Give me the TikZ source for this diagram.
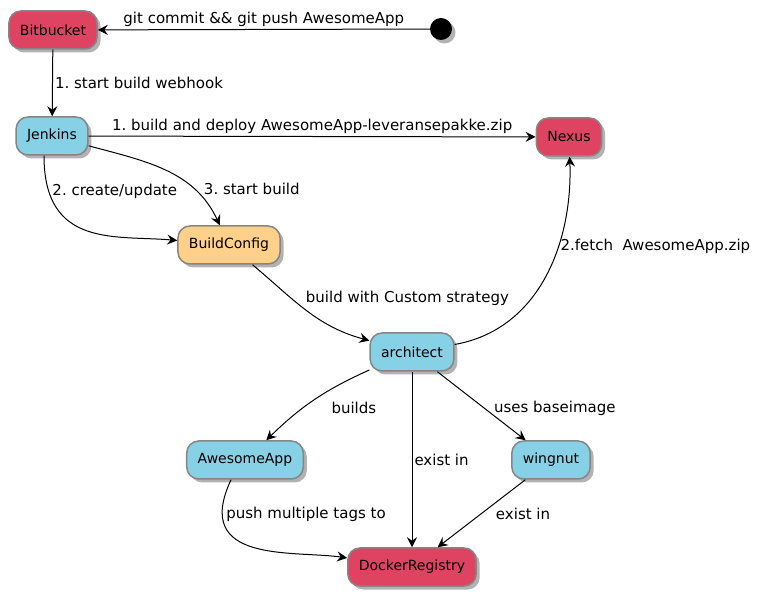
\documentclass[tikz,border=0pt]{standalone}
\usepackage{fontspec}
\setmainfont{DejaVu Sans}
\usepackage{xcolor}
\usepackage{tikz}
\usetikzlibrary{arrows.meta}
\usetikzlibrary{shadows}
\frenchspacing

\definecolor{bbred}{HTML}{DE4462}
\definecolor{appblue}{HTML}{87D1E6}
\definecolor{cfgorange}{HTML}{FFD08A}
\definecolor{rimgray}{HTML}{858585}

\tikzset{
  box/.style={draw=rimgray, line width=1.5pt, rounded corners=12pt,
    minimum height=38pt, inner xsep=11pt,
    font=\fontsize{14}{16}\selectfont,
    drop shadow={shadow xshift=3.5pt, shadow yshift=-3.5pt, opacity=0.3, fill=black}},
  redbox/.style={box, fill=bbred},
  bluebox/.style={box, fill=appblue},
  orangebox/.style={box, fill=cfgorange},
  lbl/.style={font=\fontsize{15}{17}\selectfont, inner sep=2pt},
}

\begin{document}
\begin{tikzpicture}[x=1pt, y=-1pt, >={Stealth[length=10pt, width=10pt, inset=3.5pt]}]
    \useasboundingbox (0,0) rectangle (761,601);
    \node[redbox] (bitbucket) at (53,30) {Bitbucket};
    \node[circle, fill=black, minimum size=22pt, inner sep=0pt,
      drop shadow={shadow xshift=3.5pt, shadow yshift=-3.5pt, opacity=0.3, fill=black}] (start) at (441,29) {};
    \node[bluebox] (jenkins) at (52,136) {Jenkins};
    \node[redbox] (nexus) at (569,137) {Nexus};
    \node[orangebox] (buildconfig) at (229,245) {BuildConfig};
    \node[bluebox] (architect) at (412,352) {architect};
    \node[bluebox] (awesomeapp) at (245,460) {AwesomeApp};
    \node[bluebox] (wingnut) at (551,460) {wingnut};
    \node[redbox] (dockerreg) at (412,567) {DockerRegistry};
    \path [->, line width=1pt] (start) edge node[lbl, above] {git commit \&\& git push AwesomeApp} (bitbucket);
    \path [->, line width=1pt] (bitbucket) edge node[lbl, right] {1. start build webhook} (jenkins);
    \path [->, line width=1pt] (jenkins) edge node[lbl, above] {1. build and deploy AwesomeApp-leveransepakke.zip} (nexus);
    \path [->, line width=1pt] ([xshift=-8pt]jenkins.south) edge[out=-90, in=175, out looseness=1.5] node[lbl, pos=0.14, anchor=west, xshift=2pt, yshift=-3pt] {2. create/update} (buildconfig);
    \path [->, line width=1pt] (jenkins) edge[out=-15, in=115] node[lbl, pos=0.72, anchor=west, xshift=8pt] {3. start build} (buildconfig);
    \path [->, line width=1pt] (buildconfig) edge[out=-40, in=165] node[lbl, pos=0.35, anchor=west, xshift=12pt] {build with Custom strategy} (architect);
    \path [->, line width=1pt] (architect) edge[out=10, in=-88] node[lbl, pos=0.64, anchor=west] {2.fetch\ \ AwesomeApp.zip} (nexus);
    \path [->, line width=1pt] (architect) edge[bend right=10] node[lbl, pos=0.45, anchor=west, xshift=10pt, yshift=-11pt] {builds} (awesomeapp);
    \path [->, line width=1pt] (architect) edge node[lbl, pos=0.5, anchor=west] {exist in} (dockerreg);
    \path [->, line width=1pt] (architect) edge node[lbl, pos=0.5, anchor=west, xshift=10pt, yshift=-2pt] {uses baseimage} (wingnut);
    \path [->, line width=1pt] (wingnut) edge node[lbl, pos=0.5, anchor=west, xshift=12pt] {exist in} (dockerreg);
    \path [->, line width=1pt] ([xshift=-14pt]awesomeapp.south) edge[out=-115, in=172, out looseness=1.7] node[lbl, pos=0.2, anchor=west, xshift=1pt, yshift=5pt] {push multiple tags to} (dockerreg);
  \end{tikzpicture}
\end{document}
